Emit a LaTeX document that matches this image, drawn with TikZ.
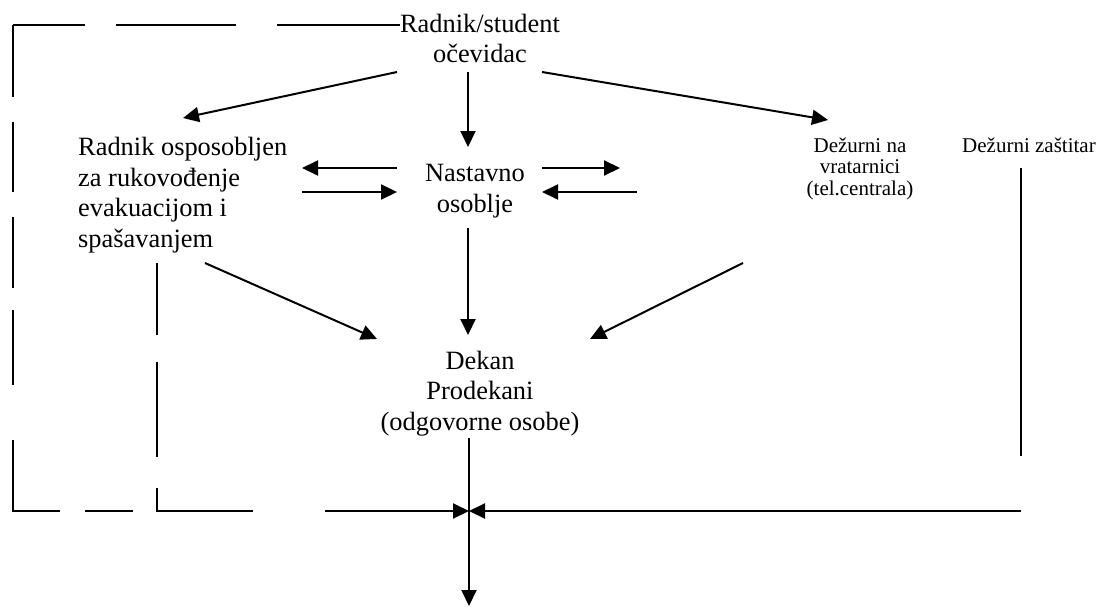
\documentclass[tikz,border=0pt]{standalone}
\usepackage{fontspec}
\setmainfont{Liberation Serif}
\usetikzlibrary{arrows.meta}
\tikzset{
  conn/.style={line width=2pt},
  arr/.style={conn, -{Triangle[length=16pt,width=15pt]}},
  big/.style={inner sep=0pt, font=\fontsize{26.4}{30.5}\selectfont},
  small/.style={inner sep=0pt, font=\fontsize{21}{21.5}\selectfont},
}
\begin{document}
\begin{tikzpicture}[x=1pt,y=-1pt]
\useasboundingbox (0,0) rectangle (1099,607);
% nodes (anchor base = baseline of the last line)
\node[big, align=center, anchor=base] (rs) at (480,63) {Radnik/student\\očevidac};
\node[big, align=left, anchor=base west] (ro) at (78,247) {Radnik osposobljen\\za rukovođenje\\evakuacijom i\\spašavanjem};
\node[big, align=center, anchor=base] (nas) at (475,212) {Nastavno\\osoblje};
\node[small, align=center, anchor=base] (dv) at (860,195) {Dežurni na\\vratarnici\\(tel.centrala)};
\node[small, anchor=base west] (dz) at (962,152) {Dežurni zaštitar};
\node[big, align=center, anchor=base] (dek) at (480,430) {Dekan\\Prodekani\\(odgovorne osobe)};
% connector end points
\coordinate (rsL) at (397,72);
\coordinate (rsC) at (468,72);
\coordinate (rsR) at (542,72);
\coordinate (roT) at (183,118);
\coordinate (nasT) at (468,147);
\coordinate (dvT) at (828,120);
\coordinate (nasL1) at (397,168);
\coordinate (roR1) at (302,168);
\coordinate (roR2) at (302,192);
\coordinate (nasL2) at (397,192);
\coordinate (nasR1) at (542,168);
\coordinate (dvL1) at (620,168);
\coordinate (dvL2) at (637,192);
\coordinate (nasR2) at (542,192);
\coordinate (roB) at (205,263);
\coordinate (dekL) at (377,339);
\coordinate (nasB) at (468,228);
\coordinate (dekT) at (468,335);
\coordinate (dvB) at (743,263);
\coordinate (dekR) at (590,339);
\coordinate (dekB) at (469,438);
\coordinate (junc) at (469,511);
\coordinate (out) at (469,606);
\coordinate (dzB) at (1021,168);
\coordinate (dzE) at (1021,456);
\coordinate (dzH) at (1021,511);
\coordinate (leftH) at (325,511);
% arrows
\draw[arr] (rsL) -- (roT);
\draw[arr] (rsC) -- (nasT);
\draw[arr] (rsR) -- (dvT);
\draw[arr] (nasL1) -- (roR1);
\draw[arr] (roR2) -- (nasL2);
\draw[arr] (nasR1) -- (dvL1);
\draw[arr] (dvL2) -- (nasR2);
\draw[arr] (roB) -- (dekL);
\draw[arr] (nasB) -- (dekT);
\draw[arr] (dvB) -- (dekR);
\draw[arr] (dekB) -- (out);
\draw[conn] (dzB) -- (dzE);
\draw[arr] (dzH) -- (junc);
\draw[arr] (leftH) -- (junc);
% dashed outline (segments as drawn)
\draw[conn] (13,25) -- (85,25);
\draw[conn] (116,25) -- (236,25);
\draw[conn] (277,25) -- (rs.west |- 0,25);
\draw[conn] (13,25) -- (13,97);
\draw[conn] (13,122) -- (13,192);
\draw[conn] (13,217) -- (13,288);
\draw[conn] (13,310) -- (13,385);
\draw[conn] (13,440) -- (13,511) -- (60,511);
\draw[conn] (85,511) -- (133,511);
\draw[conn] (157,488) -- (157,511) -- (253,511);
\draw[conn] (157,263) -- (157,335);
\draw[conn] (157,362) -- (157,457);
\end{tikzpicture}
\end{document}
